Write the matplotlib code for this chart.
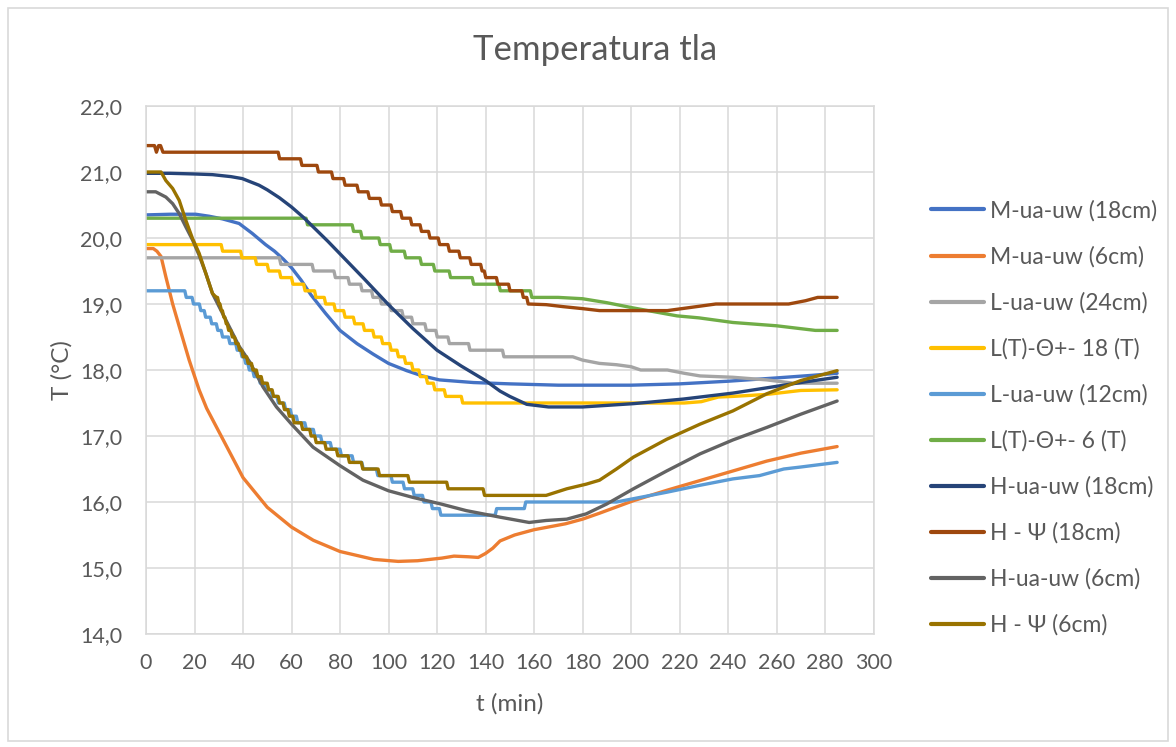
import matplotlib
matplotlib.use("Agg")
import matplotlib.pyplot as plt
from matplotlib.patches import Rectangle
from matplotlib.ticker import FuncFormatter

# ---------------- data ----------------
title = "Temperatura tla"
xlabel = "t (min)"
ylabel = "T (°C)"
x_ticks = list(range(0, 301, 20))
y_ticks = [14, 15, 16, 17, 18, 19, 20, 21, 22]

labels = ["M-ua-uw (18cm)", "M-ua-uw (6cm)", "L-ua-uw (24cm)", "L(T)-Θ+- 18 (T)",
          "L-ua-uw (12cm)", "L(T)-Θ+- 6 (T)", "H-ua-uw (18cm)", "H - Ψ (18cm)",
          "H-ua-uw (6cm)", "H - Ψ (6cm)"]
colors = ["#4472C4", "#ED7D31", "#A5A5A5", "#FFC000", "#5B9BD5",
          "#70AD47", "#264478", "#9E480E", "#636363", "#997300"]

# M-ua-uw (18cm)
m18_t = [0, 10, 20.5, 26, 31.5, 38.4, 43.8, 49.3, 53, 56.6, 60, 64, 68, 74, 80, 87, 93.7, 100,
         107.5, 114, 121, 135, 150, 170, 200, 220, 240, 260, 275, 285]
m18_v = [20.35, 20.36, 20.36, 20.33, 20.29, 20.22, 20.07, 19.9, 19.8, 19.68, 19.55, 19.36,
         19.14, 18.86, 18.6, 18.4, 18.24, 18.1, 17.99, 17.91, 17.85, 17.81, 17.79, 17.77,
         17.77, 17.79, 17.83, 17.88, 17.92, 17.95]

# M-ua-uw (6cm)
m6_t = [0, 3, 4.5, 6.2, 8.2, 11, 13.7, 17.8, 21.9, 25, 32, 40, 50, 60, 69, 80, 94, 104, 112,
        122, 127, 133, 137, 140, 143, 146, 152, 160, 173, 180, 187, 201, 215, 228, 242, 256,
        270, 285]
m6_v = [19.84, 19.84, 19.8, 19.72, 19.41, 19.0, 18.66, 18.15, 17.7, 17.42, 16.93, 16.37,
        15.92, 15.62, 15.42, 15.25, 15.13, 15.1, 15.11, 15.15, 15.18, 15.17, 15.16, 15.22,
        15.3, 15.41, 15.5, 15.58, 15.67, 15.74, 15.83, 16.02, 16.18, 16.32, 16.47, 16.62,
        16.74, 16.84]

# L-ua-uw (24cm): start, step changes, smooth tail
l24_start_t, l24_start_v = [0], [19.7]
l24_step_t = [55, 68.5, 77.5, 83.3, 88.5, 93, 96.5, 100.5, 105.5, 109.5, 115, 119.5, 124.5,
              133, 147]
l24_step_v = [19.6, 19.5, 19.4, 19.3, 19.2, 19.1, 19.0, 18.9, 18.8, 18.7, 18.6, 18.5, 18.4,
              18.3, 18.2]
l24_tail_t = [176, 180, 187, 194, 200, 204, 215, 222, 228.5, 242, 256, 267, 285]
l24_tail_v = [18.2, 18.15, 18.1, 18.08, 18.05, 18.0, 18.0, 17.95, 17.91, 17.89, 17.85,
              17.8, 17.8]

# L(T)-Θ+- 18 (T)
lt18_start_t, lt18_start_v = [0], [19.9]
lt18_step_t = [31, 39, 45, 50, 55, 60, 65, 69.5, 73.5, 77.5, 81.5, 85.5, 89.5, 93.5, 97,
               100.5, 103.5, 106.5, 109.5, 112.5, 115.5, 118.5, 123, 130]
lt18_step_v = [19.8, 19.7, 19.6, 19.5, 19.4, 19.3, 19.2, 19.1, 19.0, 18.9, 18.8, 18.7, 18.6,
               18.5, 18.4, 18.3, 18.2, 18.1, 18.0, 17.9, 17.8, 17.7, 17.6, 17.5]
lt18_tail_t = [222, 229, 236, 242, 256, 270, 285]
lt18_tail_v = [17.5, 17.52, 17.59, 17.6, 17.63, 17.69, 17.7]

# L-ua-uw (12cm)
l12_start_t, l12_start_v = [0], [19.2]
l12_step_t = [16, 19, 22, 24, 26.5, 29, 31, 34, 37, 39, 40.5, 42, 44, 46.5, 49, 51.5, 54,
              57, 59.5, 62, 65.5, 69, 72, 76, 80, 85, 89, 95, 101, 106, 110, 114, 117.5,
              121, 144, 156]
l12_step_v = [19.1, 19.0, 18.9, 18.8, 18.7, 18.6, 18.5, 18.4, 18.3, 18.2, 18.1, 18.0, 17.9,
              17.8, 17.7, 17.6, 17.5, 17.4, 17.3, 17.2, 17.1, 17.0, 16.9, 16.8, 16.7, 16.6,
              16.5, 16.4, 16.3, 16.2, 16.1, 16.0, 15.9, 15.8, 15.9, 16.0]
l12_tail_t = [194, 201, 215, 228, 242, 253, 263, 270, 285]
l12_tail_v = [16.0, 16.05, 16.15, 16.25, 16.35, 16.4, 16.5, 16.53, 16.6]

# L(T)-Θ+- 6 (T)
lt6_start_t, lt6_start_v = [0], [20.3]
lt6_step_t = [66, 85, 88.5, 96, 100.5, 106.5, 113, 118.5, 125, 134.5, 145.5, 158.5]
lt6_step_v = [20.2, 20.1, 20.0, 19.9, 19.8, 19.7, 19.6, 19.5, 19.4, 19.3, 19.2, 19.1]
lt6_tail_t = [170, 180, 190, 201, 210, 219, 228, 242, 260, 276, 285]
lt6_tail_v = [19.1, 19.08, 19.02, 18.94, 18.88, 18.82, 18.79, 18.72, 18.67, 18.6, 18.6]

# H-ua-uw (18cm)
h18_t = [0, 10, 20, 27.4, 35, 39.7, 46.6, 50, 55, 60, 65, 70, 75, 80, 90, 100, 110, 120, 130,
         140, 146, 150, 157, 166, 180, 201, 221.6, 242, 256, 270, 285]
h18_v = [20.98, 20.98, 20.97, 20.96, 20.93, 20.9, 20.8, 20.73, 20.61, 20.47, 20.31, 20.13,
         19.95, 19.76, 19.38, 18.99, 18.63, 18.3, 18.06, 17.84, 17.68, 17.6, 17.48, 17.44,
         17.44, 17.49, 17.56, 17.65, 17.73, 17.81, 17.89]

# H - Ψ (18cm)
hp18_start_t = [0, 3.5, 4.3, 5.2, 6, 7]
hp18_start_v = [21.4, 21.4, 21.3, 21.4, 21.4, 21.3]
hp18_step_t = [54.5, 63.7, 70.5, 76.5, 81.5, 87, 91.5, 96.5, 101, 105, 109, 113, 116.5, 120.5,
               124.5, 129, 133.5, 138, 139.5, 144.5, 149.5, 155, 157]
hp18_step_v = [21.2, 21.1, 21.0, 20.9, 20.8, 20.7, 20.6, 20.5, 20.4, 20.3, 20.2, 20.1, 20.0,
               19.9, 19.8, 19.7, 19.6, 19.5, 19.4, 19.3, 19.2, 19.1, 19.0]
hp18_tail_t = [165, 172, 180, 187, 200, 215, 225, 235, 250, 265, 272, 277, 285]
hp18_tail_v = [18.99, 18.96, 18.93, 18.9, 18.9, 18.9, 18.95, 19.0, 19.0, 19.0, 19.05, 19.1,
               19.1]

# H-ua-uw (6cm)
h6_t = [0, 4, 8.2, 11, 13.7, 16.4, 19.2, 21.9, 24.7, 27.4, 32.9, 38.4, 42.8, 48.3, 53.8, 60,
        68.9, 80, 89.5, 100, 110, 121.6, 132, 146, 158, 165, 173.5, 181.5, 190, 201, 214.7,
        228.5, 242, 256, 270, 285]
h6_v = [20.7, 20.7, 20.62, 20.52, 20.37, 20.17, 19.97, 19.74, 19.46, 19.16, 18.76, 18.36,
        18.12, 17.74, 17.44, 17.18, 16.83, 16.55, 16.33, 16.17, 16.07, 15.97, 15.87, 15.77,
        15.69, 15.72, 15.74, 15.82, 15.97, 16.2, 16.47, 16.73, 16.94, 17.13, 17.33, 17.53]

# H - Ψ (6cm)
hp6_start_t = [0, 6.2, 8.2, 11, 13.7, 16.4, 19.2, 21.9, 24.7, 27.4, 29]
hp6_start_v = [21.0, 21.0, 20.87, 20.75, 20.57, 20.27, 19.99, 19.77, 19.46, 19.16, 19.1]
hp6_step_t = [29.5, 30.5, 31.5, 32.5, 33.5, 35, 36.5, 38, 39.5, 41.5, 43.5, 45.5, 47.5, 50,
              52, 54.5, 56.5, 58.5, 60.5, 64, 67.5, 69.6, 73.7, 78.5, 83.3, 88.8, 95.7, 108,
              124, 139]
hp6_step_v = [19.0, 18.9, 18.8, 18.7, 18.6, 18.5, 18.4, 18.3, 18.2, 18.1, 18.0, 17.9, 17.8,
              17.7, 17.6, 17.5, 17.4, 17.3, 17.2, 17.1, 17.0, 16.9, 16.8, 16.7, 16.6, 16.5,
              16.4, 16.3, 16.2, 16.1]
hp6_tail_t = [165, 173.5, 181.5, 187, 194, 201, 214.7, 228.5, 242, 256, 270, 285]
hp6_tail_v = [16.1, 16.2, 16.27, 16.33, 16.5, 16.68, 16.95, 17.18, 17.38, 17.64, 17.84, 17.99]


def staircase(start_t, start_v, step_t, step_v, tail_t, tail_v, ramp=0.6):
    """Join start points, sampled staircase steps and a smooth tail."""
    ts, vs = list(start_t), list(start_v)
    for t, v in zip(step_t, step_v):
        ts += [t, t + ramp]
        vs += [vs[-1], v]
    ts += list(tail_t)
    vs += list(tail_v)
    return ts, vs


series = [
    (m18_t, m18_v),
    (m6_t, m6_v),
    staircase(l24_start_t, l24_start_v, l24_step_t, l24_step_v, l24_tail_t, l24_tail_v),
    staircase(lt18_start_t, lt18_start_v, lt18_step_t, lt18_step_v, lt18_tail_t, lt18_tail_v),
    staircase(l12_start_t, l12_start_v, l12_step_t, l12_step_v, l12_tail_t, l12_tail_v),
    staircase(lt6_start_t, lt6_start_v, lt6_step_t, lt6_step_v, lt6_tail_t, lt6_tail_v),
    (h18_t, h18_v),
    staircase(hp18_start_t, hp18_start_v, hp18_step_t, hp18_step_v, hp18_tail_t, hp18_tail_v),
    (h6_t, h6_v),
    staircase(hp6_start_t, hp6_start_v, hp6_step_t, hp6_step_v, hp6_tail_t, hp6_tail_v),
]

# ---------------- drawing ----------------
plt.rcParams['font.family'] = ['Lato', 'DejaVu Sans']
W, H = 1176, 747
fig = plt.figure(figsize=(W / 100, H / 100), dpi=100)
fig.patch.set_facecolor("white")

ax = fig.add_axes([146 / W, 1 - 634 / H, (873.5 - 146) / W, (634 - 106) / H])
text_col = "#595959"
grid_col = "#D9D9D9"

for (t, v), lab, c in zip(series, labels, colors):
    ax.plot(t, v, color=c, lw=2.4, label=lab, solid_joinstyle="round",
            solid_capstyle="round")

ax.set_xlim(0, 300)
ax.set_ylim(14, 22)
ax.set_xticks(x_ticks)
ax.set_yticks(y_ticks)
ax.yaxis.set_major_formatter(FuncFormatter(lambda v, p: f"{v:.1f}".replace(".", ",")))
ax.grid(True, color=grid_col, lw=1.1)
ax.set_axisbelow(True)
for s in ax.spines.values():
    s.set_color(grid_col)
    s.set_linewidth(1.1)
ax.tick_params(length=0, labelsize=15.5, colors=text_col)
ax.tick_params(axis='x', pad=14)
ax.tick_params(axis='y', pad=17)

fig.text(595 / W, 1 - 50 / H, title, ha="center", va="center", fontsize=25,
         color=text_col)
fig.text(510 / W, 1 - 704 / H, xlabel, ha="center", va="center", fontsize=17.5,
         color=text_col)
fig.text(62 / W, 1 - 370 / H, ylabel, ha="center", va="center", fontsize=17.5,
         color=text_col, rotation=90)

leg = fig.legend(loc="upper left", bbox_to_anchor=(931 / W, 1 - 200 / H),
                 frameon=False, fontsize=16.5, handlelength=2.3, handletextpad=0.28,
                 labelspacing=1.07, borderpad=0, borderaxespad=0)
for txt in leg.get_texts():
    txt.set_color(text_col)
for line in leg.get_lines():
    line.set_linewidth(3)

fig.patches.append(Rectangle((8 / W, 6 / H), (1168 - 8) / W, (739 - 6) / H,
                             transform=fig.transFigure, fill=False,
                             edgecolor=grid_col, lw=1.2))

fig.savefig("out.png", dpi=100, facecolor="white")
